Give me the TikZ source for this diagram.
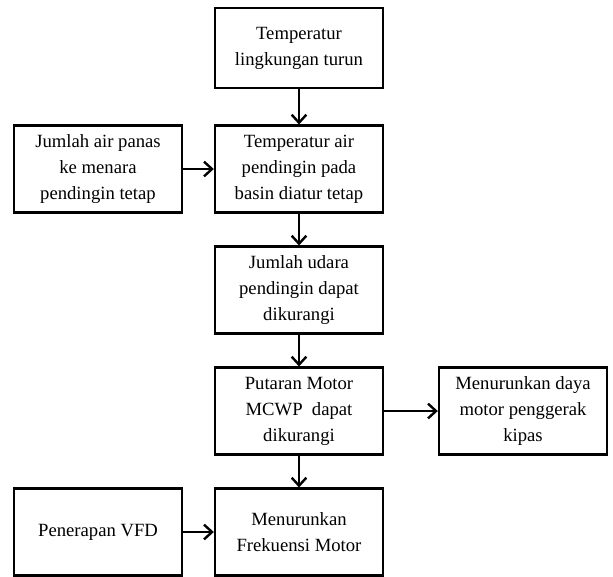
\documentclass[tikz,border=0pt]{standalone}
\usepackage{fontspec}
\setmainfont{Liberation Serif}
\usepackage{tikz}
\usetikzlibrary{arrows.meta}

\begin{document}
\begin{tikzpicture}[x=0.75pt, y=0.75pt, node distance=90.75pt,
    block/.style={rectangle, draw, line width=1.8pt, minimum width=126pt, minimum height=65pt, align=center, font=\fontsize{14}{19.5}\selectfont},
    flow/.style={-{Straight Barb[length=6pt,width=11pt]}, line width=1.8pt}]
    \useasboundingbox (0,0) rectangle (613,-576);

    \node (lingkungan) [block, minimum height=60pt] at (299,-48) {Temperatur\\lingkungan turun};
    \node (basin) [block, below of=lingkungan] {Temperatur air\\pendingin pada\\basin diatur tetap};
    \node (udara) [block, below of=basin] {Jumlah udara\\pendingin dapat\\dikurangi};
    \node (putaran) [block, below of=udara] {Putaran Motor\\MCWP\ \ dapat\\dikurangi};
    \node (frekuensi) [block, below of=putaran] {Menurunkan\\Frekuensi Motor};

    \node (airpanas) [block, left of=basin, node distance=150.75pt] {Jumlah air panas\\ke menara\\pendingin tetap};
    \node (daya) [block, right of=putaran, node distance=168pt] {Menurunkan daya\\motor penggerak\\kipas};
    \node (vfd) [block, left of=frekuensi, node distance=150.75pt] {Penerapan VFD};

    \draw[flow] (lingkungan) -- (basin);
    \draw[flow] (basin) -- (udara);
    \draw[flow] (udara) -- (putaran);
    \draw[flow] (putaran) -- (frekuensi);
    \draw[flow] (airpanas) -- (basin);
    \draw[flow] (putaran) -- (daya);
    \draw[flow] (vfd) -- (frekuensi);
\end{tikzpicture}
\end{document}
